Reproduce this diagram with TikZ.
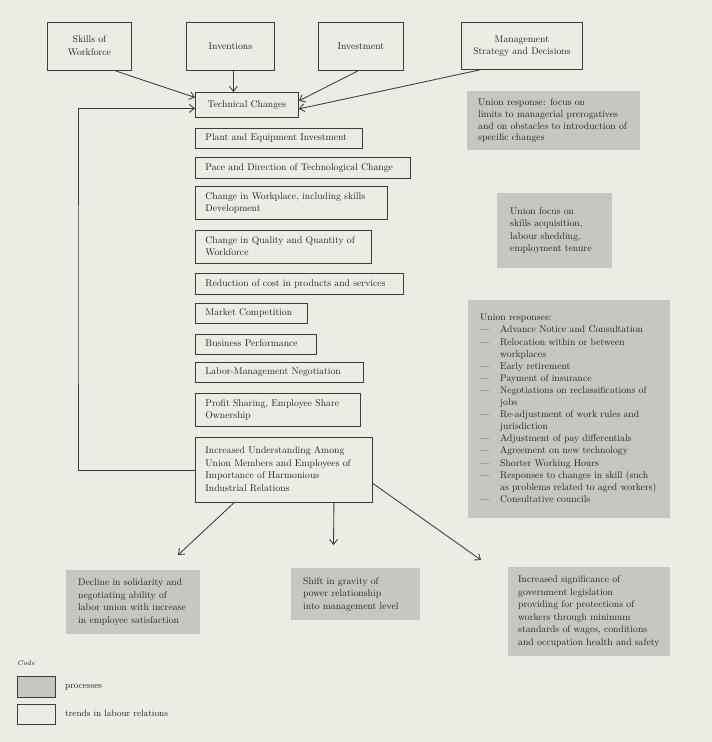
\documentclass[tikz,border=0pt]{standalone}
\usetikzlibrary{arrows.meta}
\definecolor{paper}{RGB}{236,236,228}
\definecolor{procgray}{RGB}{199,199,194}
\definecolor{ink}{RGB}{60,60,60}
\definecolor{txt}{RGB}{34,34,34}
\newcommand{\boxlines}[2]{\makebox[#1][l]{\begin{tabular}{@{}l@{}}#2\end{tabular}}}
\newcommand{\cboxlines}[1]{\begin{tabular}{@{}c@{}}#1\end{tabular}}
\newcommand{\itm}{\makebox[20pt][l]{---}}
\newcommand{\cnt}{\hspace*{20pt}}
\begin{document}
\begin{tikzpicture}[x=1pt,y=-1pt,
  font=\fontsize{9.7}{12.5}\selectfont, text=txt,
  wbox/.style={draw=ink, line width=0.85pt, inner sep=0pt, anchor=north west},
  gbox/.style={fill=procgray, inner sep=0pt, anchor=north west},
  arr/.style={draw=ink, line width=0.85pt, -{Straight Barb[length=5pt,width=8pt]}}]
\fill[paper] (0,0) rectangle (712,742);
\useasboundingbox (0,0) rectangle (712,742);

% top inputs
\node[wbox, minimum width=84pt, minimum height=48pt] (skills) at (47,22) {\cboxlines{Skills of\\Workforce}};
\node[wbox, minimum width=88pt, minimum height=48pt] (inv) at (186,22) {Inventions};
\node[wbox, minimum width=85pt, minimum height=48pt] (invest) at (318,22) {Investment};
\node[wbox, minimum width=121pt, minimum height=47pt] (mgmt) at (461,22) {\cboxlines{Management\\Strategy and Decisions}};

% left column
\node[wbox, minimum width=103pt, minimum height=25pt] (tech) at (195,92) {Technical Changes};
\node[wbox, minimum width=167pt, minimum height=20pt] (plant) at (195,128) {\boxlines{147pt}{Plant and Equipment Investment}};
\node[wbox, minimum width=215pt, minimum height=21pt] (pace) at (195,157) {\boxlines{195pt}{Pace and Direction of Technological Change}};
\node[wbox, minimum width=192pt, minimum height=33pt] (work) at (195,186) {\boxlines{172pt}{Change in Workplace, including skills\\Development}};
\node[wbox, minimum width=176pt, minimum height=33pt] (qual) at (195,230) {\boxlines{156pt}{Change in Quality and Quantity of\\Workforce}};
\node[wbox, minimum width=208pt, minimum height=21pt] (reduc) at (195,273) {\boxlines{188pt}{Reduction of cost in products and services}};
\node[wbox, minimum width=112pt, minimum height=20pt] (market) at (195,303) {\boxlines{92pt}{Market Competition}};
\node[wbox, minimum width=121pt, minimum height=20pt] (business) at (195,334) {\boxlines{101pt}{Business Performance}};
\node[wbox, minimum width=168pt, minimum height=20pt] (labor) at (195,362) {\boxlines{148pt}{Labor-Management Negotiation}};
\node[wbox, minimum width=165pt, minimum height=33pt] (profit) at (195,393) {\boxlines{145pt}{Profit Sharing, Employee Share\\Ownership}};
\node[wbox, minimum width=177pt, minimum height=65pt] (incr) at (195,437) {\boxlines{157pt}{Increased Understanding Among\\Union Members and Employees of\\Importance of Harmonious\\Industrial Relations}};

% right processes
\node[gbox, minimum width=173pt, minimum height=59pt, font=\fontsize{9.7}{11.9}\selectfont] (resp1) at (467,91) {\boxlines{151pt}{Union response: focus on\\limits to managerial prerogatives\\and on obstacles to introduction of\\specific changes}};
\node[gbox, minimum width=115pt, minimum height=75pt] (focus) at (497,193) {\boxlines{89pt}{Union focus on\\skills acquisition,\\labour shedding,\\employment tenure}};
\node[gbox, minimum width=202pt, minimum height=218pt, font=\fontsize{9.7}{12.1}\selectfont] (resps) at (468,300) {\boxlines{178pt}{Union responses:\\
\itm Advance Notice and Consultation\\
\itm Relocation within or between\\
\cnt workplaces\\
\itm Early retirement\\
\itm Payment of insurance\\
\itm Negotiations on reclassifications of\\
\cnt jobs\\
\itm Re-adjustment of work rules and\\
\cnt jurisdiction\\
\itm Adjustment of pay differentials\\
\itm Agreement on new technology\\
\itm Shorter Working Hours\\
\itm Responses to changes in skill (such\\
\cnt as problems related to aged workers)\\
\itm Consultative councils}};

% bottom outcomes
\node[gbox, minimum width=134pt, minimum height=64pt] (bl) at (66,570) {\boxlines{110pt}{Decline in solidarity and\\negotiating ability of\\labor union with increase\\in employee satisfaction}};
\node[gbox, minimum width=129pt, minimum height=52pt] (bm) at (291,568) {\boxlines{105pt}{Shift in gravity of\\power relationship\\into management level}};
\node[gbox, minimum width=162pt, minimum height=89pt] (br) at (508,567) {\boxlines{142pt}{Increased significance of\\government legislation\\providing for protections of\\workers through minimum\\standards of wages, conditions\\and occupation health and safety}};

% arrows
\draw[arr] ([xshift=26pt]skills.south) -- ([yshift=7.5pt]tech.west);
\draw[arr] ([xshift=3pt]inv.south) -- ([xshift=3pt]inv.south |- tech.north);
\draw[arr] ([xshift=-3pt]invest.south) -- ([yshift=4pt]tech.east);
\draw[arr] ([xshift=-42pt]mgmt.south) -- ([yshift=-4pt]tech.east);
\coordinate (fb) at (78,300);
\draw[arr] (incr.west) -| (fb) |- ([yshift=-3.5pt]tech.west);
\coordinate (t1) at (178,555);
\coordinate (t2) at (333.5,545);
\coordinate (t3) at (481,560);
\draw[arr] ([xshift=-50pt]incr.south) -- (t1);
\draw[arr] ([xshift=50pt]incr.south) -- (t2);
\draw[arr] ([yshift=-13.5pt]incr.east) -- (t3);

% legend
\node[anchor=west, inner sep=0pt, font=\fontsize{7}{8}\selectfont\itshape] (code) at (17,663) {Code};
\node[draw=ink, line width=0.85pt, fill=procgray, inner sep=0pt, minimum width=38pt, minimum height=21pt, anchor=north west] (lg1) at (17,676) {};
\node[draw=ink, line width=0.85pt, inner sep=0pt, minimum width=38pt, minimum height=20pt, anchor=north west] (lg2) at (17,704) {};
\node[anchor=west, inner sep=0pt, font=\fontsize{9}{11}\selectfont] (lt1) at (65,687) {processes};
\node[anchor=west, inner sep=0pt, font=\fontsize{9}{11}\selectfont] (lt2) at (65,713) {trends in labour relations};
\end{tikzpicture}
\end{document}
